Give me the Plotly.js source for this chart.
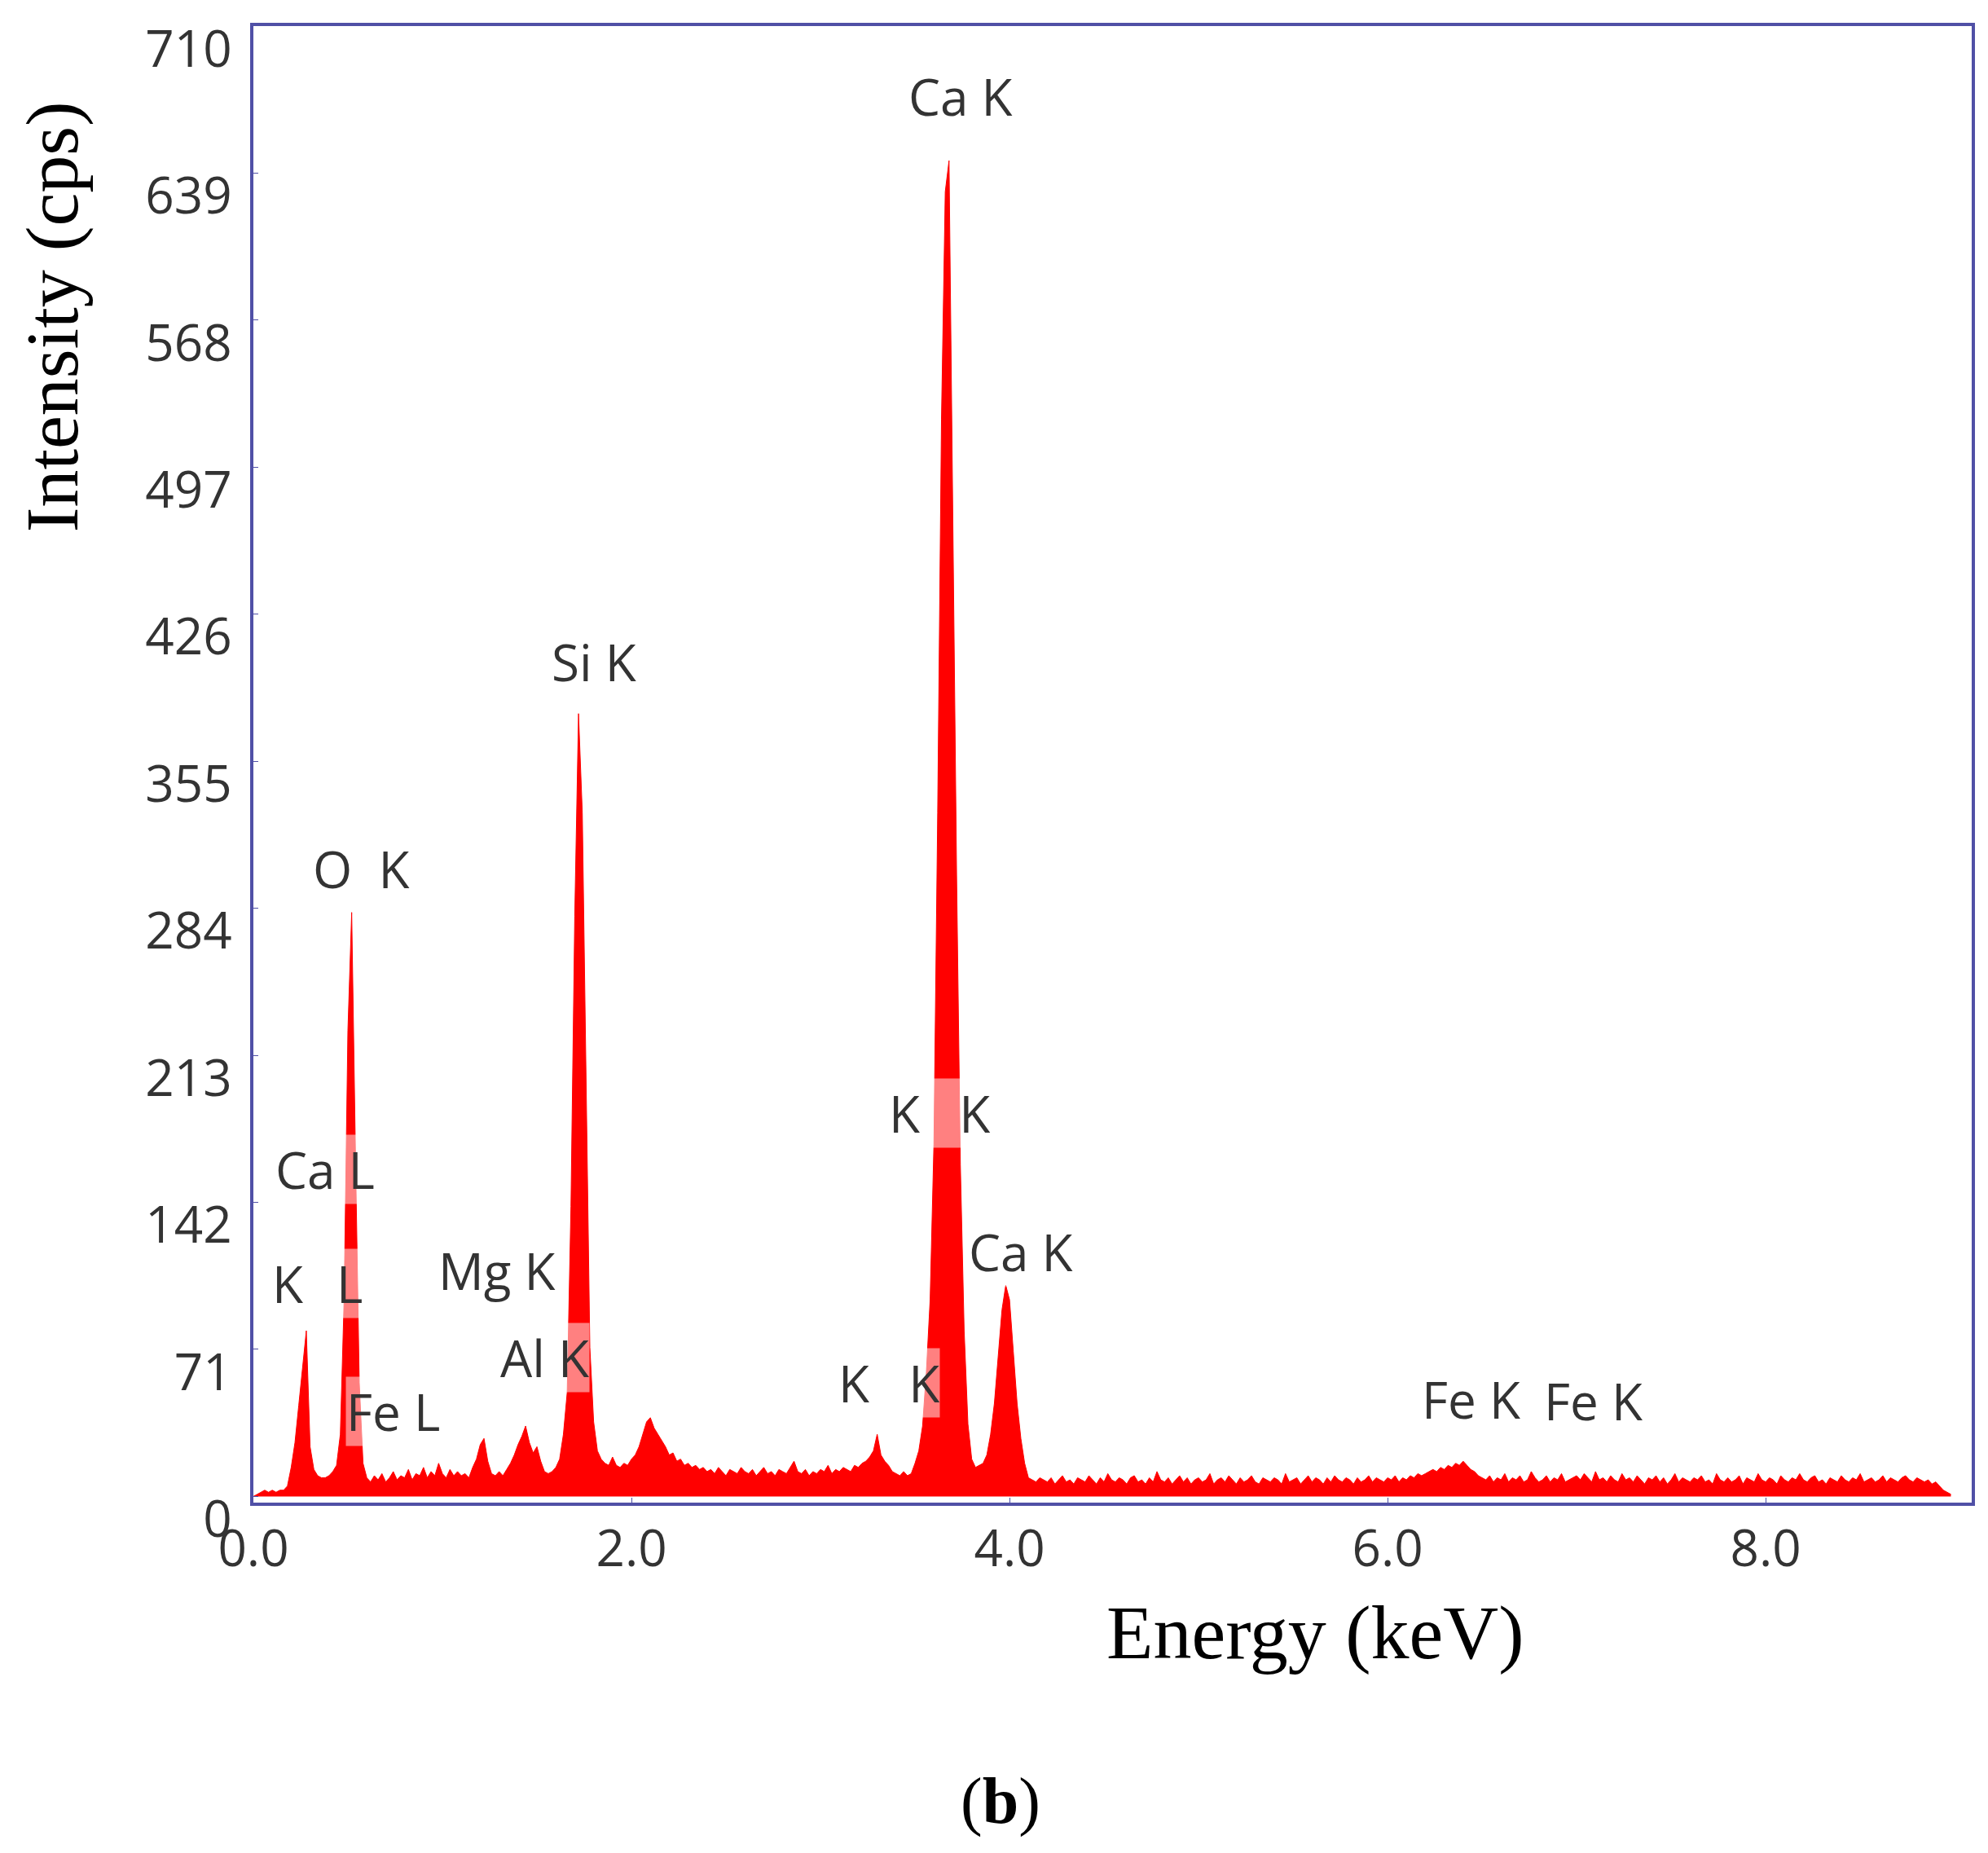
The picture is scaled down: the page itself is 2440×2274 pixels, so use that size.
<!DOCTYPE html>
<html>
<head>
<meta charset="utf-8">
<script src="https://cdn.plot.ly/plotly-3.0.1.min.js"></script>
<style>
  html, body { margin: 0; padding: 0; background: #ffffff; }
  #chart { width: 2440px; height: 2274px; }
</style>
</head>
<body>
<div id="chart"></div>
<script>
// EDS spectrum, one value per 0.02 keV channel starting at 0.00 keV
const channelStart = 0.0;
const channelWidth = 0.02;

const counts = [
  // 0.00 - 0.18
  0, 1, 2, 3, 2, 3, 2, 3, 3, 5,
  // 0.20 - 0.38  (C K)
  14, 26, 44, 62, 80, 24, 13, 10, 9, 9,
  // 0.40 - 0.58  (O K)
  10, 12, 15, 30, 95, 225, 282, 165, 55, 16,
  // 0.60 - 0.78
  9, 7, 10, 8, 11, 7, 9, 12, 8, 10,
  // 0.80 - 0.98
  9, 13, 8, 11, 10, 14, 9, 12, 10, 16,
  // 1.00 - 1.18
  11, 9, 13, 10, 12, 10, 11, 9, 14, 18,
  // 1.20 - 1.38  (Mg K)
  25, 28, 17, 11, 10, 12, 10, 13, 16, 20,
  // 1.40 - 1.58  (Al K)
  25, 29, 34, 26, 21, 24, 17, 12, 11, 12,
  // 1.60 - 1.78  (Si K)
  14, 18, 30, 50, 140, 280, 378, 330, 190, 72,
  // 1.80 - 1.98
  36, 22, 18, 16, 15, 19, 15, 14, 16, 15,
  // 2.00 - 2.18
  18, 20, 24, 30, 36, 38, 33, 30, 27, 24,
  // 2.20 - 2.38
  20, 21, 17, 18, 15, 16, 14, 15, 13, 14,
  // 2.40 - 2.58
  12, 13, 11, 14, 12, 10, 13, 12, 11, 14,
  // 2.60 - 2.78
  12, 11, 13, 10, 12, 14, 11, 12, 10, 13,
  // 2.80 - 2.98
  12, 11, 14, 17, 12, 11, 13, 10, 12, 11,
  // 3.00 - 3.18
  13, 12, 15, 11, 13, 12, 14, 13, 12, 15,
  // 3.20 - 3.38  (K K)
  14, 16, 17, 19, 22, 30, 20, 17, 15, 12,
  // 3.40 - 3.58
  11, 10, 12, 10, 11, 16, 22, 34, 60, 95,
  // 3.60 - 3.78  (Ca Ka)
  170, 330, 520, 630, 645, 470, 300, 160, 80, 35,
  // 3.80 - 3.98  (Ca Kb)
  18, 14, 15, 16, 20, 30, 45, 68, 90, 102,
  // 4.00 - 4.18
  95, 70, 45, 28, 16, 9, 8, 7, 9, 8,
  // 4.20 - 4.38
  7, 9, 6, 8, 10, 7, 8, 6, 9, 8,
  // 4.40 - 4.58
  7, 10, 8, 6, 9, 7, 11, 8, 7, 9,
  // 4.60 - 4.78
  8, 6, 9, 10, 7, 8, 6, 9, 7, 12,
  // 4.80 - 4.98
  8, 7, 9, 6, 8, 10, 7, 9, 6, 8,
  // 5.00 - 5.18
  9, 7, 8, 11, 6, 8, 9, 7, 10, 8,
  // 5.20 - 5.38
  6, 9, 7, 8, 10, 7, 6, 9, 8, 7,
  // 5.40 - 5.58
  9, 8, 6, 11, 7, 8, 9, 6, 8, 10,
  // 5.60 - 5.78
  7, 9, 8, 6, 9, 7, 10, 8, 7, 9,
  // 5.80 - 5.98
  8, 6, 9, 7, 8, 10, 7, 9, 8, 7,
  // 6.00 - 6.18
  9, 8, 10, 7, 9, 8, 10, 9, 11, 10,
  // 6.20 - 6.38  (Fe K)
  11, 12, 13, 12, 14, 13, 15, 14, 16, 15,
  // 6.40 - 6.58
  17, 15, 13, 12, 10, 9, 8, 10, 7, 9,
  // 6.60 - 6.78
  8, 11, 7, 9, 8, 10, 7, 8, 12, 9,
  // 6.80 - 6.98
  7, 8, 10, 7, 9, 8, 11, 7, 8, 9,
  // 7.00 - 7.18
  10, 8, 11, 9, 7, 12, 8, 9, 7, 10,
  // 7.20 - 7.38
  8, 7, 11, 8, 9, 7, 10, 8, 6, 9,
  // 7.40 - 7.58
  8, 10, 7, 9, 6, 8, 11, 7, 9, 8,
  // 7.60 - 7.78
  7, 9, 8, 10, 7, 8, 6, 11, 8, 7,
  // 7.80 - 7.98
  9, 7, 8, 10, 6, 9, 8, 7, 11, 8,
  // 8.00 - 8.18
  7, 9, 8, 6, 10, 8, 7, 9, 8, 11,
  // 8.20 - 8.38
  8, 7, 9, 10, 7, 8, 6, 9, 8, 7,
  // 8.40 - 8.58
  10, 8, 7, 9, 8, 11, 7, 8, 9, 7,
  // 8.60 - 8.78
  8, 10, 7, 9, 8, 7, 9, 10, 8, 7,
  // 8.80 - 8.98
  9, 8, 7, 8, 6, 7, 5, 3, 2, 1,
];

const yTicks = [0, 71, 142, 213, 284, 355, 426, 497, 568, 639, 710];
const xTicks = [0, 2, 4, 6, 8];
const xTickText = ["0.0", "2.0", "4.0", "6.0", "8.0"];

// peak labels: text, energy (keV), intensity (cps)
const peakLabels = ["Ca K", "Si K", "O\u00a0\u00a0K", "Ca L", "K", "L", "Mg K", "Al K", "Fe L",
  "K\u00a0\u00a0\u00a0K", "Ca K", "K\u00a0\u00a0\u00a0K", "Fe K", "Fe K"];
const labelEnergy = [3.74, 1.80, 0.57, 0.38, 0.18, 0.51, 1.29, 1.54, 0.74, 3.63, 4.06, 3.36, 6.44, 7.09];
const labelCps = [676, 403, 303, 158, 103, 103, 109, 67, 41, 185, 118, 55, 47, 46];

const frameColor = "#5050a6";
const sansFont = "\"Open Sans\", \"Noto Sans\", sans-serif";
const serifFont = "\"Liberation Serif\", \"DejaVu Serif\", serif";

const trace = {
  type: "scatter",
  mode: "lines",
  x0: channelStart,
  dx: channelWidth,
  y: counts,
  fill: "tozeroy",
  fillcolor: "#ff0000",
  line: { color: "#ff0000", width: 1 },
  hoverinfo: "skip",
};

const annotations = peakLabels.map((t, i) => ({
  text: t,
  x: labelEnergy[i],
  y: labelCps[i],
  xref: "x",
  yref: "y",
  xanchor: "center",
  yanchor: "middle",
  showarrow: false,
  font: { family: sansFont, size: 62, color: "#333333" },
  bgcolor: "rgba(255,255,255,0.5)",
  borderpad: 0,
}));

annotations.push(
  {
    text: "Intensity (cps)",
    xref: "paper", yref: "paper",
    x: -0.117, y: 0.803,
    xanchor: "center", yanchor: "middle",
    textangle: -90,
    showarrow: false,
    font: { family: serifFont, size: 92, color: "#000000" },
  },
  {
    text: "Energy (keV)",
    xref: "paper", yref: "paper",
    x: 0.618, y: -0.088,
    xanchor: "center", yanchor: "middle",
    showarrow: false,
    font: { family: serifFont, size: 94, color: "#000000" },
  },
  {
    text: "(<b>b</b>)",
    xref: "paper", yref: "paper",
    x: 0.435, y: -0.202,
    xanchor: "center", yanchor: "middle",
    showarrow: false,
    font: { family: serifFont, size: 80, color: "#000000" },
  }
);

const layout = {
  width: 2440,
  height: 2274,
  margin: { l: 311, r: 20, t: 32, b: 430 },
  paper_bgcolor: "#ffffff",
  plot_bgcolor: "#ffffff",
  showlegend: false,
  xaxis: {
    range: [0, 9.09],
    tickvals: xTicks,
    ticktext: xTickText,
    ticks: "inside",
    ticklen: 6,
    tickcolor: frameColor,
    tickfont: { family: sansFont, size: 62, color: "#333333" },
    ticklabelstandoff: 0,
    showgrid: false,
    zeroline: false,
    showline: true,
    mirror: true,
    linecolor: frameColor,
    linewidth: 4,
  },
  yaxis: {
    range: [-3, 710],
    tickvals: yTicks,
    ticks: "inside",
    ticklen: 6,
    tickcolor: frameColor,
    tickfont: { family: sansFont, size: 62, color: "#333333" },
    ticklabelshift: 28,
    ticklabelstandoff: 10,
    ticklabeloverflow: "allow",
    showgrid: false,
    zeroline: false,
    showline: true,
    mirror: true,
    linecolor: frameColor,
    linewidth: 4,
  },
  annotations: annotations,
};

Plotly.newPlot("chart", [trace], layout, { staticPlot: true });
</script>
</body>
</html>
